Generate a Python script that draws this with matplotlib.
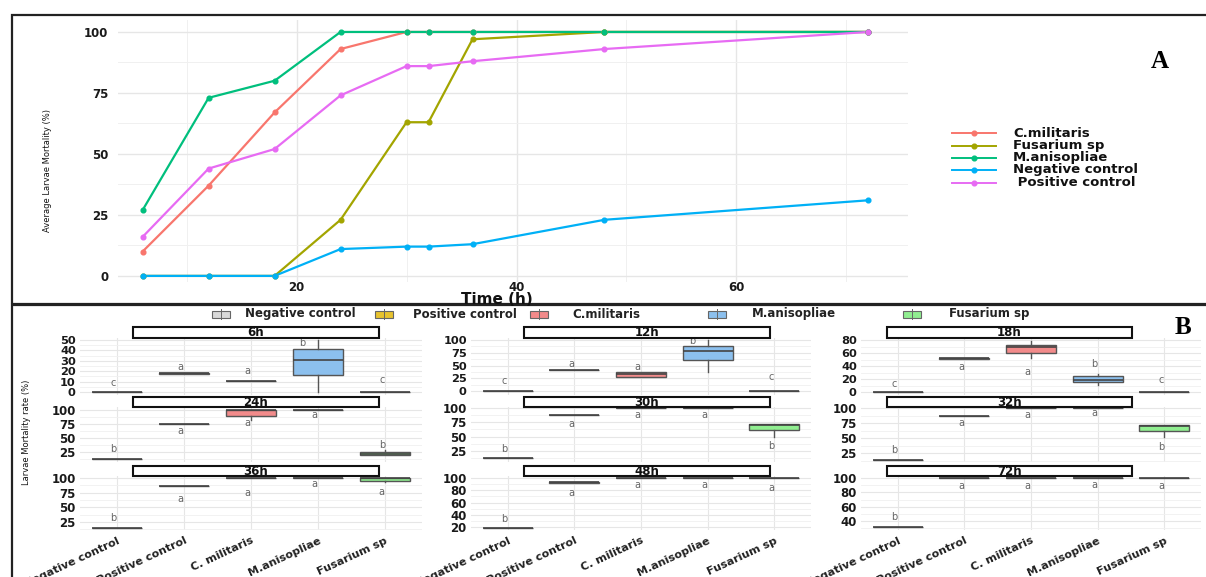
import matplotlib
matplotlib.use('Agg')
import matplotlib.pyplot as plt
from matplotlib.patches import Rectangle
from matplotlib.lines import Line2D
from matplotlib.ticker import AutoMinorLocator
from matplotlib import font_manager as fm

# ---------------- data: panel A ----------------
time_h = [6, 12, 18, 24, 30, 32, 36, 48, 72]
series_names = ['C.militaris', 'Fusarium sp', 'M.anisopliae', 'Negative control', ' Positive control']
c_militaris = [10, 37, 67, 93, 100, 100, 100, 100, 100]
fusarium_sp = [0, 0, 0, 23, 63, 63, 97, 100, 100]
m_anisopliae = [27, 73, 80, 100, 100, 100, 100, 100, 100]
negative_control = [0, 0, 0, 11, 12, 12, 13, 23, 31]
positive_control = [16, 44, 52, 74, 86, 86, 88, 93, 100]
series_colors = ['#F8766D', '#A3A500', '#00BF7D', '#00B0F6', '#E76BF3']

# ---------------- data: panel B ----------------
groups = ['Negative control', 'Positive control', 'C. militaris', 'M.anisopliae', 'Fusarium sp']
legend_B = ['Negative control', 'Positive control', 'C.militaris', 'M.anisopliae', 'Fusarium sp']
box_colors = ['#D9D9D9', '#E8C32E', '#F28B8B', '#8CC0EE', '#90EE90']
facet_labels = ['6h', '12h', '18h', '24h', '30h', '32h', '36h', '48h', '72h']
whisk_lo = [[0, 17.5, 11, 0, 0], [0, 42, 27, 38, 0], [0, 51.5, 52, 11, 0],
            [12, 75, 83, 100, 20], [13, 87, 100, 100, 50], [13, 87, 100, 100, 52],
            [15, 87, 100, 100, 93], [18, 92, 100, 100, 100], [31, 100, 100, 100, 100]]
q1 = [[0, 17.5, 11, 16, 0], [0, 42, 28, 60, 0], [0, 51.5, 60, 15, 0],
      [12, 75, 90, 100, 20], [13, 87, 100, 100, 61], [13, 87, 100, 100, 61],
      [15, 87, 100, 100, 95], [18, 92, 100, 100, 100], [31, 100, 100, 100, 100]]
med = [[0, 18, 11, 31, 0], [0, 42, 33, 79, 0], [0, 52, 70, 19, 0],
       [12, 75, 100, 100, 22], [13, 87, 100, 100, 70], [13, 87, 100, 100, 70],
       [15, 87, 100, 100, 100], [18, 93, 100, 100, 100], [31, 100, 100, 100, 100]]
q3 = [[0, 18.5, 11, 41, 0], [0, 42, 37, 88, 0], [0, 53, 73, 24, 0],
      [12, 75, 100, 100, 25], [13, 87, 100, 100, 72], [13, 87, 100, 100, 72],
      [15, 87, 100, 100, 100], [18, 94, 100, 100, 100], [31, 100, 100, 100, 100]]
whisk_hi = [[0, 18.5, 11, 50, 0], [0, 42, 38, 100, 0], [0, 53, 79, 28, 0],
            [12, 75, 100, 100, 29], [13, 87, 100, 100, 72], [13, 87, 100, 100, 72],
            [15, 87, 100, 100, 100], [18, 94, 100, 100, 100], [31, 100, 100, 100, 100]]
letters = [['c', 'a', 'a', 'b', 'c'], ['c', 'a', 'a', 'b', 'c'], ['c', 'a', 'a', 'b', 'c'],
           ['b', 'a', 'a', 'a', 'b'], ['b', 'a', 'a', 'a', 'b'], ['b', 'a', 'a', 'a', 'b'],
           ['b', 'a', 'a', 'a', 'a'], ['b', 'a', 'a', 'a', 'a'], ['b', 'a', 'a', 'a', 'a']]
letter_y = [[9, 24, 20, 47, 12], [20, 53, 47, 99, 27], [12, 38, 31, 43, 18],
            [30, 62, 77, 91, 37], [28, 72, 88, 88, 33], [30, 75, 88, 92, 35],
            [32, 64, 75, 90, 76], [33, 76, 88, 88, 84], [45, 89, 89, 90, 89]]
facet_yticks = [[0, 10, 20, 30, 40, 50], [0, 25, 50, 75, 100], [0, 20, 40, 60, 80],
                [25, 50, 75, 100], [25, 50, 75, 100], [25, 50, 75, 100],
                [25, 50, 75, 100], [20, 40, 60, 80, 100], [40, 60, 80, 100]]

# ---------------- layout ----------------
W, H = 1206, 577
fig = plt.figure(figsize=(W / 100, H / 100), dpi=100)
fig.patch.set_facecolor('white')


def rect(l, t, r, b):
    return [l / W, 1 - b / H, (r - l) / W, (b - t) / H]


def fx(x):
    return x / W


def fy(y):
    return 1 - y / H


try:
    fm.findfont(fm.FontProperties(family='Liberation Sans Narrow'), fallback_to_default=False)
    narrow, nsize = 'Liberation Sans Narrow', 7.8
except Exception:
    narrow, nsize = 'DejaVu Sans', 6.0

grid_c = '#e6e6e6'
tick_c = '#1a1a1a'

# ---------------- Panel A ----------------
axA = fig.add_axes(rect(118, 20, 908, 282))
series = [c_militaris, fusarium_sp, m_anisopliae, negative_control, positive_control]
for vals, col in zip(series, series_colors):
    axA.plot(time_h, vals, color=col, lw=1.6, zorder=3, solid_capstyle='round')
for vals, col in zip(series, series_colors):
    axA.plot(time_h, vals, color=col, lw=0, marker='o', ms=3.4, zorder=4)
axA.set_xlim(3.76, 75.6)
axA.set_ylim(-2.5, 104.9)
axA.set_xticks([20, 40, 60])
axA.set_xticks([10, 30, 50, 70], minor=True)
axA.set_yticks([0, 25, 50, 75, 100])
axA.set_yticks([12.5, 37.5, 62.5, 87.5], minor=True)
axA.grid(True, which='major', color=grid_c, lw=1.0)
axA.grid(True, which='minor', color='#f0f0f0', lw=0.7)
axA.set_axisbelow(True)
for s in axA.spines.values():
    s.set_visible(False)
axA.tick_params(which='both', length=0)
axA.tick_params(axis='y', pad=7)
axA.tick_params(axis='x', pad=-1)
for lab in axA.get_xticklabels() + axA.get_yticklabels():
    lab.set_fontweight('bold')
    lab.set_fontsize(8.5)
    lab.set_color(tick_c)

fig.text(fx(47), fy(170), 'Average Larvae Mortality (%)', rotation=90, ha='center', va='center',
         family=narrow, fontsize=nsize, color='#111')
fig.text(fx(497), fy(299), 'Time (h)', ha='center', va='center', fontsize=11,
         fontweight='bold', color='#111')
fig.text(fx(1160), fy(62), 'A', ha='center', va='center', fontsize=18, fontweight='bold',
         family=['Liberation Serif', 'DejaVu Serif'])

leg_y = [133, 146, 158, 170, 183]
for name, col, yy in zip(series_names, series_colors, leg_y):
    fig.add_artist(Line2D([fx(952), fx(996)], [fy(yy), fy(yy)], color=col, lw=1.4,
                          transform=fig.transFigure))
    fig.add_artist(Line2D([fx(974)], [fy(yy)], color=col, marker='o', ms=3.4, lw=0,
                          transform=fig.transFigure))
    fig.text(fx(1013), fy(yy), name, ha='left', va='center', fontsize=9.5,
             fontweight='bold', color='#111')

# panel frames
fig.add_artist(Rectangle((fx(12), fy(304)), fx(1215 - 12), (304 - 15) / H, fill=False,
                         ec='#222', lw=1.6, transform=fig.transFigure, clip_on=False))
fig.add_artist(Rectangle((fx(12), fy(600)), fx(1215 - 12), (600 - 305) / H, fill=False,
                         ec='#222', lw=1.6, transform=fig.transFigure, clip_on=False))

# ---------------- Panel B ----------------
col_px = [(80, 422), (471, 811), (861, 1201)]
row_px = [(338, 395), (407, 462), (476, 530)]
strip_col = [(133, 379), (524, 770), (887, 1132)]
strip_row = [(327, 338), (397, 407), (466, 476)]
ylims = [(-2.9, 51.9), (-7.8, 103.9), (-4.6, 83.1), (7.1, 105.4), (5.8, 101.7),
         (10, 101.7), (11.4, 103.4), (15.1, 103.3), (27.5, 102.8)]
letter_dx = [[-0.05, -0.05, -0.05, -0.23, -0.05], [-0.05, -0.05, -0.05, -0.23, -0.05]] + \
            [[-0.05] * 5 for _ in range(7)]

positions = list(range(1, len(groups) + 1))
for k, lab in enumerate(facet_labels):
    r, c = divmod(k, 3)
    ax = fig.add_axes(rect(col_px[c][0], row_px[r][0], col_px[c][1], row_px[r][1]))
    stats = []
    for g in range(len(groups)):
        stats.append(dict(whislo=whisk_lo[k][g], q1=q1[k][g], med=med[k][g],
                          q3=q3[k][g], whishi=whisk_hi[k][g], fliers=[]))
    bp = ax.bxp(stats, positions=positions, widths=0.75, patch_artist=True,
                showfliers=False, showcaps=False,
                boxprops=dict(edgecolor='#555555', lw=1.0),
                medianprops=dict(color='#444444', lw=1.2),
                whiskerprops=dict(color='#555555', lw=1.0))
    for patch, colr in zip(bp['boxes'], box_colors):
        patch.set_facecolor(colr)
    for g in range(len(groups)):
        ax.text(positions[g] + letter_dx[k][g], letter_y[k][g], letters[k][g], ha='center',
                va='center', fontsize=7, color='#666666')
    ax.set_xlim(0.45, 5.55)
    ax.set_ylim(*ylims[k])
    ax.set_yticks(facet_yticks[k])
    ax.yaxis.set_minor_locator(AutoMinorLocator(2))
    ax.set_xticks(positions)
    ax.grid(True, which='major', color=grid_c, lw=0.8)
    ax.grid(True, which='minor', axis='y', color='#f0f0f0', lw=0.6)
    ax.set_axisbelow(True)
    for s in ax.spines.values():
        s.set_visible(False)
    ax.tick_params(which='both', length=0)
    ax.tick_params(axis='y', pad=3)
    for t in ax.get_yticklabels():
        t.set_fontweight('bold')
        t.set_fontsize(8.2 if r == 0 else 8.5)
        t.set_color(tick_c)
    if r == 2:
        ax.set_xticklabels(groups, rotation=25, ha='right', rotation_mode='anchor',
                           fontsize=8, fontweight='bold', color='#222')
        ax.tick_params(axis='x', pad=4)
    else:
        ax.tick_params(axis='x', labelbottom=False)
    ax.patch.set_alpha(0)
    # strip
    sl, sr = strip_col[c]
    st, sb = strip_row[r]
    fig.add_artist(Rectangle((fx(sl), fy(sb)), fx(sr - sl), (sb - st) / H, fc='white',
                             ec='#111', lw=1.5, transform=fig.transFigure))
    fig.text(fx((sl + sr) / 2), fy((st + sb) / 2 + 0.5), lab, ha='center', va='center',
             fontsize=8.5, fontweight='bold', color='#111')

fig.text(fx(27), fy(432), 'Larvae Mortality rate (%)', rotation=90, ha='center', va='center',
         family=narrow, fontsize=nsize, color='#111')
fig.text(fx(1183), fy(328), 'B', ha='center', va='center', fontsize=18, fontweight='bold',
         family=['Liberation Serif', 'DejaVu Serif'])

legB_patch_x = [212, 375, 530, 708, 903]
legB_text_x = [245, 413, 572, 752, 949]
legB_y = 314
for name, colr, px, tx in zip(legend_B, box_colors, legB_patch_x, legB_text_x):
    fig.add_artist(Rectangle((fx(px), fy(legB_y + 3.5)), fx(18), 7 / H, fc=colr, ec='#666666',
                             lw=0.8, transform=fig.transFigure))
    fig.add_artist(Line2D([fx(px + 9), fx(px + 9)], [fy(legB_y + 5), fy(legB_y - 5)],
                          color='#666666', lw=0.7, transform=fig.transFigure))
    fig.text(fx(tx), fy(legB_y), name, ha='left', va='center', fontsize=8.5,
             fontweight='bold', color='#222')

fig.savefig('out.png', dpi=100, facecolor='white')
